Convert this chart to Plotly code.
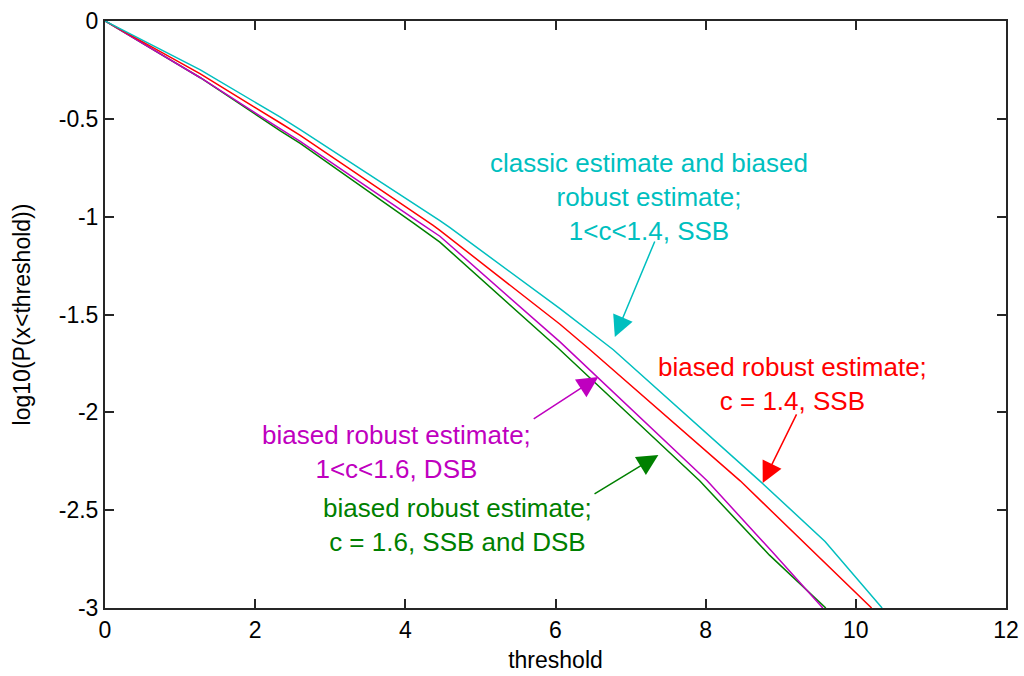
import plotly.graph_objects as go

# ---- data ----
cyan_x = [0, 1.27, 2.33, 2.6, 4.46, 4.59, 6.06, 6.77, 8.72, 9.59, 10.35]
cyan_y = [0, -0.25, -0.49, -0.555, -1.02, -1.055, -1.47, -1.68, -2.35, -2.66, -3.0]

red_x = [0, 1.27, 2.33, 2.6, 4.37, 4.46, 6.06, 6.46, 8.46, 9.39, 10.21]
red_y = [0, -0.27, -0.52, -0.585, -1.045, -1.07, -1.55, -1.68, -2.35, -2.695, -3.0]

mag_x = [0, 1.27, 2.33, 2.6, 4.19, 4.46, 6.06, 6.17, 8.02, 8.88, 9.56]
mag_y = [0, -0.29, -0.55, -0.615, -1.03, -1.10, -1.64, -1.68, -2.35, -2.71, -3.0]

grn_x = [0, 1.27, 2.33, 2.6, 4.10, 4.46, 6.03, 7.92, 8.85, 9.60]
grn_y = [0, -0.29, -0.56, -0.625, -1.03, -1.13, -1.67, -2.35, -2.73, -3.0]

x_ticks = [0, 2, 4, 6, 8, 10, 12]
y_ticks = [0, -0.5, -1, -1.5, -2, -2.5, -3]
y_tick_labels = ["0", "-0.5", "-1", "-1.5", "-2", "-2.5", "-3"]

CYAN = "#00BFBF"
RED = "#FF0000"
MAG = "#BF00BF"
GRN = "#008000"
FONT = "Liberation Sans, Arial, sans-serif"

fig = go.Figure()
for xs, ys, c in [(grn_x, grn_y, GRN), (mag_x, mag_y, MAG), (red_x, red_y, RED), (cyan_x, cyan_y, CYAN)]:
    fig.add_trace(go.Scatter(x=xs, y=ys, mode="lines", line=dict(color=c, width=1.5), showlegend=False))

# text labels
texts = [
    ("classic estimate and biased<br>robust estimate;<br>1<c<1.4, SSB", 7.25, -0.90, CYAN),
    ("biased robust estimate;<br>c = 1.4, SSB", 9.16, -1.855, RED),
    ("biased robust estimate;<br>1<c<1.6, DSB", 3.88, -2.205, MAG),
    ("biased robust estimate;<br>c = 1.6, SSB and DSB", 4.69, -2.575, GRN),
]
for t, x, y, c in texts:
    fig.add_annotation(x=x, y=y, text=t.replace("<c<", "&lt;c&lt;"), showarrow=False,
                       font=dict(family=FONT, size=26, color=c), align="center")

# arrows: (head x, head y, tail x, tail y)
arrows = [
    (6.79, -1.615, 7.33, -1.119, CYAN),
    (8.76, -2.361, 9.22, -2.003, RED),
    (6.57, -1.819, 5.69, -2.039, MAG),
    (7.37, -2.218, 6.50, -2.422, GRN),
]
for hx, hy, tx, ty, c in arrows:
    fig.add_annotation(x=hx, y=hy, ax=tx, ay=ty, axref="x", ayref="y", text="",
                       showarrow=True, arrowhead=2, arrowsize=2.8, arrowwidth=1.5, arrowcolor=c)

axis_common = dict(showgrid=False, zeroline=False, showline=True, linecolor="#262626", linewidth=2,
                   mirror="ticks", ticks="inside", ticklen=9, tickwidth=2, tickcolor="#262626",
                   automargin=False,
                   tickfont=dict(family=FONT, size=23, color="#000000"))
fig.update_xaxes(range=[0, 12], tickvals=x_ticks, ticktext=[str(v) for v in x_ticks],
                 title=dict(text="threshold", font=dict(family=FONT, size=23, color="#000000"), standoff=10),
                 **axis_common)
fig.update_yaxes(range=[-3, 0], tickvals=y_ticks, ticktext=y_tick_labels,
                 title=dict(text="log10(P(x&lt;threshold))", font=dict(family=FONT, size=23, color="#000000"), standoff=22),
                 **axis_common)
fig.update_layout(width=1024, height=676, margin=dict(l=105, r=18, t=21, b=68),
                  paper_bgcolor="white", plot_bgcolor="white")
fig.write_html("out.html")
